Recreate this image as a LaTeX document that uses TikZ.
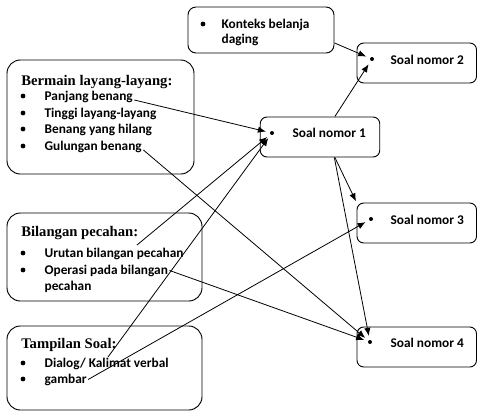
\documentclass[tikz,border=0pt]{standalone}
\usepackage{fontspec}
\setmainfont{Liberation Serif}
\newfontfamily\carlito{Carlito}
\usetikzlibrary{arrows.meta}
\tikzset{
    panel/.style = {rectangle, draw=black, line width=0.7pt, rounded corners=10pt},
    panelk/.style = {rectangle, draw=black, line width=0.7pt, rounded corners=6pt},
    soal/.style = {rectangle, draw=black, line width=0.7pt, rounded corners=5pt, minimum width=89.6pt, minimum height=30pt},
    judul/.style = {anchor=base west, inner sep=0pt, font=\bfseries\fontsize{11}{13}\selectfont},
    item/.style = {anchor=base west, inner sep=1pt, font=\carlito\bfseries\fontsize{10}{12}\selectfont},
    dot/.style = {circle, fill=black, inner sep=0pt, minimum size=3pt},
    dotb/.style = {circle, fill=black, inner sep=0pt, minimum size=3.6pt},
    edgen/.style = {-{Latex[length=6pt,width=4.8pt]}, line width=0.6pt, shorten >=3pt},
}
\begin{document}
\begin{tikzpicture}[x=0.75pt, y=-0.75pt]
  \useasboundingbox (0,0) rectangle (477,412);

  % kotak-kotak kiri
  \node[panelk, minimum width=109.5pt, minimum height=34.5pt] (kon) at (261,30) {};
  \node[panel, minimum width=140.25pt, minimum height=85.5pt] (bermain) at (100.5,117) {};
  \node[panel, minimum width=146.25pt, minimum height=66pt] (bilangan) at (104.5,257) {};
  \node[panel, minimum width=146.25pt, minimum height=63pt] (tampilan) at (104.5,368) {};

  % kotak soal
  \node[soal] (s1) at (320,137) {};
  \node[soal] (s2) at (416.75,63) {};
  \node[soal] (s3) at (416.75,223) {};
  \node[soal] (s4) at (416.75,347) {};

  % konteks
  \node[dotb] (kond) at (203,24) {};
  \node[item] (kont1) at (220,28) {Konteks belanja};
  \node[item] (kont2) at (220,43) {daging};

  % bermain layang-layang
  \node[judul] (bmt) at (21,85) {Bermain layang-layang:};
  \node[dotb] (bmd1) at (23,96) {};
  \node[dotb] (bmd2) at (23,113) {};
  \node[dotb] (bmd3) at (23,129) {};
  \node[dotb] (bmd4) at (23,146) {};
  \node[item] (panjang) at (43,100) {Panjang benang};
  \node[item] (tinggi) at (43,117) {Tinggi layang-layang};
  \node[item] (hilang) at (43,133) {Benang yang hilang};
  \node[item] (gulungan) at (43,150) {Gulungan benang};

  % bilangan pecahan
  \node[judul] (bpt) at (21,236) {Bilangan pecahan:};
  \node[dotb] (bpd1) at (23,253) {};
  \node[dotb] (bpd2) at (23,270) {};
  \node[item] (urutan) at (43,257) {Urutan bilangan pecahan};
  \node[item] (operasi) at (43,274) {Operasi pada bilangan};
  \node[item] (operasib) at (43,290) {pecahan};

  % tampilan soal
  \node[judul] (tst) at (21,348) {Tampilan Soal:};
  \node[dotb] (tsd1) at (23,363) {};
  \node[dotb] (tsd2) at (23,379) {};
  \node[item] (dialog) at (43,367) {Dialog/ Kalimat verbal};
  \node[item] (gambar) at (43,383) {gambar};

  % label soal
  \node[dot] (s1d) at (272,133) {};
  \node[item] (s1t) at (291,137) {Soal nomor 1};
  \node[dot] (s2d) at (372,59) {};
  \node[item] (s2t) at (389,64) {Soal nomor 2};
  \node[dot] (s3d) at (371,219) {};
  \node[item] (s3t) at (389,224) {Soal nomor 3};
  \node[dot] (s4d) at (370,342) {};
  \node[item] (s4t) at (389,347) {Soal nomor 4};

  \coordinate (urutanp) at (137,245);
  \coordinate (kalimatp) at (108,357);

  % panah
  \draw[edgen] (kon.350) -- (s2d);
  \draw[edgen] (s1.54) -- (s2d);
  \draw[edgen] (panjang.base east) -- (s1d);
  \draw[edgen] (urutanp) -- (s1d);
  \draw[edgen] (kalimatp) -- (s1d);
  \draw[edgen, shorten >=1pt] (s1.306) -- (s3.north west);
  \draw[edgen] (s1.305) -- (s4d);
  \draw[edgen] (gulungan.base east) -- (s4d);
  \draw[edgen] (operasi.east) -- (s4d);
  \draw[edgen] (gambar.east) -- (s3d);
\end{tikzpicture}
\end{document}
